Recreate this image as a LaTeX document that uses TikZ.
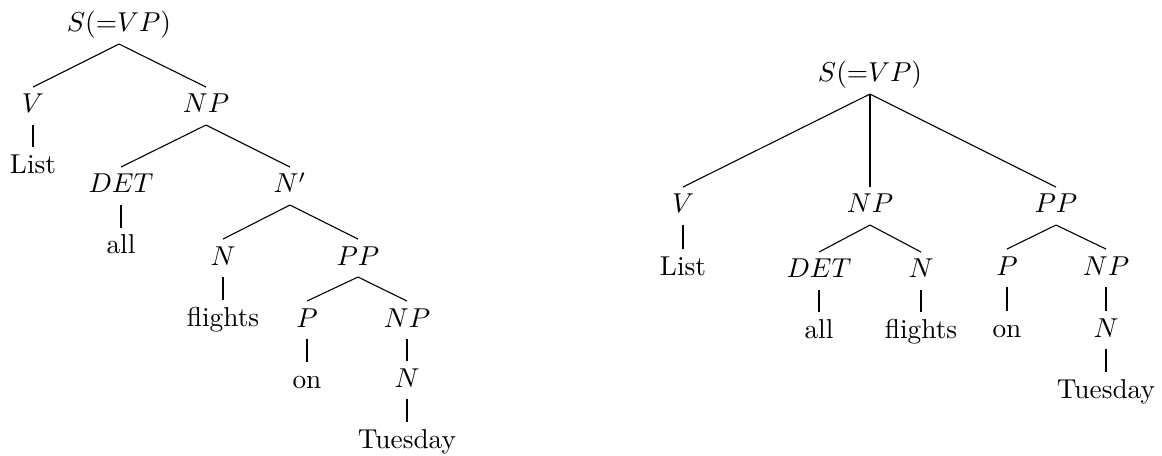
\documentclass[tikz,border=0pt]{standalone}
\usepackage{amsmath}
\usepackage{tikz}
\tikzset{
  tn/.style={anchor=base, inner xsep=1pt, inner ysep=2.5pt,
             text height=6.8pt, text depth=1.7pt},
  br/.style={line width=0.4pt, black},
}

\begin{document}
\begin{tikzpicture}[x=0.366pt,y=-0.366pt]
    \useasboundingbox (0,0) rectangle (1162,456);
    \node[tn] (ls) at (119,32) {$S(\mathord{=}VP)$};
    \node[tn] (lv) at (33,113) {$V$};
    \node[tn] (lnp) at (206,113) {$NP$};
    \node[tn] (llist) at (33,173) {List};
    \node[tn] (ldet) at (121,193) {$DET$};
    \node[tn] (lnbar) at (290,193) {$N'$};
    \node[tn] (lall) at (121,254) {all};
    \node[tn] (ln) at (223,265) {$N$};
    \node[tn] (lpp) at (358,265) {$PP$};
    \node[tn] (lflights) at (223,326) {flights};
    \node[tn] (lp) at (307,327) {$P$};
    \node[tn] (lnpb) at (407,327) {$NP$};
    \node[tn] (lon) at (307,388) {on};
    \node[tn] (lnb) at (407,387) {$N$};
    \node[tn] (ltue) at (407,448) {Tuesday};
    \draw[br] (ls.south) -- (lv.north);
    \draw[br] (ls.south) -- (lnp.north);
    \draw[br] (lv.south) -- (llist.north);
    \draw[br] (lnp.south) -- (ldet.north);
    \draw[br] (lnp.south) -- (lnbar.north);
    \draw[br] (ldet.south) -- (lall.north);
    \draw[br] (lnbar.south) -- (ln.north);
    \draw[br] (lnbar.south) -- (lpp.north);
    \draw[br] (ln.south) -- (lflights.north);
    \draw[br] (lpp.south) -- (lp.north);
    \draw[br] (lpp.south) -- (lnpb.north);
    \draw[br] (lp.south) -- (lon.north);
    \draw[br] (lnpb.south) -- (lnb.north);
    \draw[br] (lnb.south) -- (ltue.north);
    \node[tn] (rs) at (870,82) {$S(\mathord{=}VP)$};
    \node[tn] (rv) at (683,213) {$V$};
    \node[tn] (rnp) at (870,213) {$NP$};
    \node[tn] (rpp) at (1056,213) {$PP$};
    \node[tn] (rlist) at (683,275) {List};
    \node[tn] (rdet) at (819,278) {$DET$};
    \node[tn] (rn) at (921,278) {$N$};
    \node[tn] (rp) at (1007,275) {$P$};
    \node[tn] (rnpb) at (1106,275) {$NP$};
    \node[tn] (rall) at (819,338) {all};
    \node[tn] (rflights) at (921,338) {flights};
    \node[tn] (ron) at (1007,337) {on};
    \node[tn] (rnb) at (1106,337) {$N$};
    \node[tn] (rtue) at (1106,398) {Tuesday};
    \draw[br] (rs.south) -- (rv.north);
    \draw[br] (rs.south) -- (rnp.north);
    \draw[br] (rs.south) -- (rpp.north);
    \draw[br] (rv.south) -- (rlist.north);
    \draw[br] (rnp.south) -- (rdet.north);
    \draw[br] (rnp.south) -- (rn.north);
    \draw[br] (rpp.south) -- (rp.north);
    \draw[br] (rpp.south) -- (rnpb.north);
    \draw[br] (rdet.south) -- (rall.north);
    \draw[br] (rn.south) -- (rflights.north);
    \draw[br] (rp.south) -- (ron.north);
    \draw[br] (rnpb.south) -- (rnb.north);
    \draw[br] (rnb.south) -- (rtue.north);
  \end{tikzpicture}
\end{document}
